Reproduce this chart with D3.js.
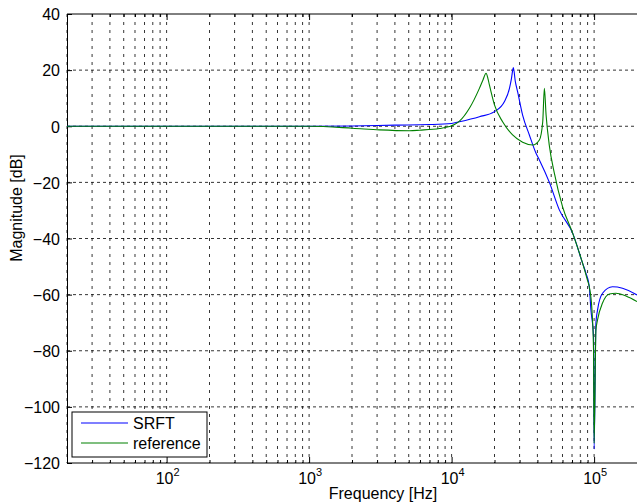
<!DOCTYPE html>
<html><head><meta charset="utf-8">
<script src="https://cdn.jsdelivr.net/npm/d3@7"></script>
<style>
body{margin:0;background:#fff}
svg{display:block}
text{font-family:"Liberation Sans",Arial,Helvetica,sans-serif;fill:#000}
</style>
</head><body>
<svg id="chart" width="637" height="504"></svg>
<script>
// ---- data ----
const seriesNames = ["SRFT", "reference"];
const seriesColors = ["#0000ff", "#008000"];

const srftFreq = [20, 100, 1000, 2000, 4000, 7000, 10000, 11350, 15670, 19990, 23500, 25470, 26300, 27110, 27990, 29050, 31500, 35130, 39120, 41300, 48550, 57000, 70700, 83000, 87700, 92500, 95000, 99100, 100000, 103000, 105700, 114600, 134600, 158200, 200000];
const srftDb   = [0, 0, 0, 0.1, 0.4, 0.6, 1.0, 1.6, 3.4, 5.2, 8.8, 13.5, 17, 20.9, 16, 12.3, 4, -3.1, -9.6, -12, -20, -29.8, -38.1, -48.8, -52.4, -57.2, -65.5, -75, -115, -70, -65.5, -59.5, -57.2, -57.7, -60.1];

const refFreq = [20, 100, 500, 1000, 2020, 3120, 5070, 5960, 8230, 9670, 10480, 11350, 13330, 15670, 16600, 17460, 17990, 18420, 19990, 22800, 26800, 31500, 37090, 41300, 43600, 44770, 46030, 48550, 52600, 60100, 70700, 83000, 90000, 92500, 96600, 99100, 100000, 103000, 105700, 114600, 128000, 142300, 167300, 200000];
const refDb   = [0, 0, 0, 0, -0.7, -1.3, -1.6, -1.4, -0.8, -0.1, 0.6, 1.8, 6.4, 13.5, 16.5, 18.9, 17, 14.7, 7.6, 1.6, -3.1, -5.7, -6.7, -4.9, 1.6, 13.5, 4, -7, -16.7, -28.7, -38.1, -48.8, -55, -57.2, -65.5, -80, -113, -72.6, -69, -63, -59.8, -59.5, -60.5, -62.5];

const yTicks = [40, 20, 0, -20, -40, -60, -80, -100, -120];
const xMajorTicks = [100, 1000, 10000, 100000];
const xMajorExponents = ["2", "3", "4", "5"];
const xLabel = "Frequency [Hz]";
const yLabel = "Magnitude [dB]";

// ---- layout ----
const L = 67, T = 14, R = 637, B = 463;
const svg = d3.select("#chart");
const x = d3.scaleLog().domain([20, 200000]).range([L, R]);
const y = d3.scaleLinear().domain([-120, 40]).range([B, T]);

// minor tick positions
const xMinor = [];
for (let d = 10; d <= 100000; d *= 10) {
  for (let k = 2; k <= 9; k++) { const v = d * k; if (v >= 20 && v < 200000) xMinor.push(v); }
}
const xGridVals = xMinor.concat(xMajorTicks);

const g = svg.append("g");

// grid
g.selectAll("line.vg").data(xGridVals).join("line")
  .attr("x1", d => x(d)).attr("x2", d => x(d)).attr("y1", T).attr("y2", B)
  .attr("stroke", "#000").attr("stroke-width", 0.8).attr("stroke-dasharray", "3,5");
g.selectAll("line.hg").data(yTicks.filter(v => v !== 40 && v !== -120)).join("line")
  .attr("x1", L).attr("x2", R).attr("y1", d => y(d)).attr("y2", d => y(d))
  .attr("stroke", "#000").attr("stroke-width", 0.8).attr("stroke-dasharray", "3,3");

// axes
const fmtMinus = d => (d < 0 ? "\u2212" + Math.abs(d) : String(d));
const yAxis = d3.axisLeft(y).tickValues(yTicks).tickSize(-5).tickPadding(7).tickFormat(fmtMinus);
const ya = svg.append("g").attr("transform", `translate(${L},0)`).call(yAxis);
ya.select(".domain").attr("stroke", "#000").attr("stroke-width", 1);
ya.selectAll(".tick text").attr("font-size", 16).attr("font-family", "Liberation Sans, Arial, sans-serif").attr("dy", "0.36em");

const xAxisB = d3.axisBottom(x).tickValues(xMajorTicks).tickSize(-6).tickFormat("");
const xb = svg.append("g").attr("transform", `translate(0,${B})`).call(xAxisB);
xb.select(".domain").attr("d", `M${L},0H${R}`).attr("stroke", "#000");
const xAxisBm = d3.axisBottom(x).tickValues(xMinor).tickSize(-3).tickFormat("");
const xbm = svg.append("g").attr("transform", `translate(0,${B})`).call(xAxisBm);
xbm.select(".domain").remove();

const xAxisT = d3.axisTop(x).tickValues(xMajorTicks).tickSize(-6).tickFormat("");
const xt = svg.append("g").attr("transform", `translate(0,${T})`).call(xAxisT);
xt.select(".domain").attr("d", `M${L},0H${R}`).attr("stroke", "#000");
const xAxisTm = d3.axisTop(x).tickValues(xMinor).tickSize(-3).tickFormat("");
const xtm = svg.append("g").attr("transform", `translate(0,${T})`).call(xAxisTm);
xtm.select(".domain").remove();

// x tick labels 10^n
const xl = svg.append("g");
xMajorTicks.forEach((v, i) => {
  const t = xl.append("text").attr("x", x(v) + 1).attr("y", 484)
    .attr("text-anchor", "middle").attr("font-size", 16);
  t.append("tspan").text("10");
  t.append("tspan").attr("dy", -8).attr("font-size", 11).text(xMajorExponents[i]);
});

// axis labels
svg.append("text").attr("x", 383).attr("y", 499).attr("text-anchor", "middle")
  .attr("font-size", 16).text(xLabel);
svg.append("text").attr("transform", "translate(22,208) rotate(-90)")
  .attr("text-anchor", "middle").attr("font-size", 16).text(yLabel);

// series
const clip = svg.append("clipPath").attr("id", "pc").append("rect")
  .attr("x", L).attr("y", T).attr("width", R - L).attr("height", B - T);
const line = d3.line().x(d => x(d[0])).y(d => y(d[1])).curve(d3.curveMonotoneX);
const series = [
  srftFreq.map((f, i) => [f, srftDb[i]]),
  refFreq.map((f, i) => [f, refDb[i]])
];
const lg = svg.append("g").attr("clip-path", "url(#pc)");
series.forEach((s, i) => {
  lg.append("path").attr("d", line(s)).attr("fill", "none")
    .attr("stroke", seriesColors[i]).attr("stroke-width", 1.1);
});

// legend
const leg = svg.append("g");
leg.append("rect").attr("x", 72).attr("y", 412).attr("width", 135).attr("height", 45)
  .attr("fill", "#fff").attr("stroke", "#000").attr("stroke-width", 1);
seriesNames.forEach((n, i) => {
  const yy = 423 + i * 20;
  leg.append("line").attr("x1", 81).attr("x2", 128).attr("y1", yy).attr("y2", yy)
    .attr("stroke", seriesColors[i]).attr("stroke-width", 1.1);
  leg.append("text").attr("x", 133).attr("y", yy + 6).attr("font-size", 16).text(n);
});
</script>
</body></html>
